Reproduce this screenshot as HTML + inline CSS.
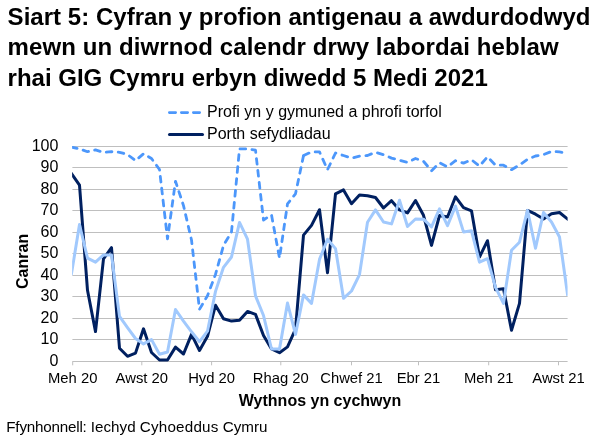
<!DOCTYPE html>
<html><head><meta charset="utf-8"><title>Siart 5</title>
<style>
html,body{margin:0;padding:0;background:#fff;}
body{width:601px;height:443px;overflow:hidden;position:relative;font-family:"Liberation Sans",sans-serif;color:#000;}
h1{position:absolute;left:7.6px;top:1.7px;margin:0;font-size:24px;line-height:30.5px;font-weight:bold;white-space:nowrap;letter-spacing:0px;font-kerning:none;}
svg{position:absolute;left:0;top:0;}
svg text{font-family:"Liberation Sans",sans-serif;font-size:16px;fill:#000;}
.src{position:absolute;left:6.3px;top:417px;font-size:15.2px;line-height:20px;white-space:nowrap;}
</style></head><body>
<h1><span style="letter-spacing:0.03px">Siart 5: Cyfran y profion antigenau a awdurdodwyd</span><br><span style="letter-spacing:0.1px">mewn un diwrnod calendr drwy labordai heblaw</span><br>rhai GIG Cymru erbyn diwedd 5 Medi 2021</h1>
<svg width="601" height="443" viewBox="0 0 601 443">
<defs><clipPath id="pc"><rect x="72.1" y="146" width="495.5" height="217"/></clipPath></defs>
<g stroke="#bfbfbf" stroke-width="1" fill="none"><line x1="72.4" x2="567.6" y1="361.5" y2="361.5"/><line x1="72.4" x2="567.6" y1="339.5" y2="339.5"/><line x1="72.4" x2="567.6" y1="318.5" y2="318.5"/><line x1="72.4" x2="567.6" y1="296.5" y2="296.5"/><line x1="72.4" x2="567.6" y1="275.5" y2="275.5"/><line x1="72.4" x2="567.6" y1="253.5" y2="253.5"/><line x1="72.4" x2="567.6" y1="232.5" y2="232.5"/><line x1="72.4" x2="567.6" y1="210.5" y2="210.5"/><line x1="72.4" x2="567.6" y1="189.5" y2="189.5"/><line x1="72.4" x2="567.6" y1="167.5" y2="167.5"/><line x1="72.4" x2="567.6" y1="146.5" y2="146.5"/><line x1="72.7" x2="72.7" y1="361.5" y2="365.3"/><line x1="141.8" x2="141.8" y1="361.5" y2="365.3"/><line x1="211.6" x2="211.6" y1="361.5" y2="365.3"/><line x1="280.8" x2="280.8" y1="361.5" y2="365.3"/><line x1="351.5" x2="351.5" y1="361.5" y2="365.3"/><line x1="418.5" x2="418.5" y1="361.5" y2="365.3"/><line x1="488.7" x2="488.7" y1="361.5" y2="365.3"/><line x1="558.5" x2="558.5" y1="361.5" y2="365.3"/></g>
<g clip-path="url(#pc)">
<polyline points="71.5,147.1 79.5,148.9 87.5,151.7 95.5,149.9 103.5,152.3 111.5,151.7 119.5,152.3 127.5,154.5 135.5,160.7 143.5,153.8 151.5,158.5 159.5,169.5 167.5,238.9 175.5,181.3 183.5,205.6 191.5,240.0 199.5,309.3 207.5,295.7 215.5,274.4 223.5,245.4 231.5,231.9 239.5,148.9 247.5,148.9 255.5,150.2 263.5,220.0 271.5,214.9 279.5,258.1 287.5,203.9 295.5,193.8 303.5,155.7" fill="none" stroke="#4c97fb" stroke-width="2.8" stroke-dasharray="5.7 6.3" stroke-linejoin="round" stroke-linecap="round"/>
<polyline points="303.5,155.7 311.5,151.9 319.5,151.9 327.5,169.7 335.5,153.0 343.5,155.5 351.5,158.1 359.5,156.2 367.5,155.5 375.5,152.3 383.5,154.7 391.5,158.1 399.5,160.3 407.5,162.4 415.5,158.5 423.5,161.3 431.5,170.8 439.5,162.8 447.5,166.9 455.5,160.7 463.5,163.1 471.5,159.8 479.5,166.1 487.5,156.8 495.5,165.2 503.5,165.2 511.5,169.7 519.5,165.0 527.5,159.4 535.5,156.0 543.5,154.7 551.5,151.4 559.5,151.9 567.5,153.2" fill="none" stroke="#4c97fb" stroke-width="2.8" stroke-dasharray="5.85 6.45" stroke-dashoffset="12.07" stroke-linejoin="round" stroke-linecap="round"/>
<polyline points="71.5,173.6 79.5,185.2 87.5,290.3 95.5,331.6 103.5,258.9 111.5,247.6 119.5,348.2 127.5,356.3 135.5,353.1 143.5,328.8 151.5,352.5 159.5,360.0 167.5,360.0 175.5,347.1 183.5,354.0 191.5,334.4 199.5,350.5 207.5,336.3 215.5,305.2 223.5,318.7 231.5,321.1 239.5,320.2 247.5,311.4 255.5,314.4 263.5,335.5 271.5,349.0 279.5,352.7 287.5,346.9 295.5,329.2 303.5,235.1 311.5,225.4 319.5,209.7 327.5,272.7 335.5,193.8 343.5,189.9 351.5,203.7 359.5,195.1 367.5,195.7 375.5,197.5 383.5,208.0 391.5,200.7 399.5,209.9 407.5,212.9 415.5,200.5 423.5,215.3 431.5,245.4 439.5,215.5 447.5,217.0 455.5,196.8 463.5,207.6 471.5,210.8 479.5,257.0 487.5,240.7 495.5,289.7 503.5,288.8 511.5,330.3 519.5,303.4 527.5,210.4 535.5,214.2 543.5,219.0 551.5,213.8 559.5,212.5 567.5,219.0" fill="none" stroke="#002060" stroke-width="3" stroke-linejoin="round" stroke-linecap="square"/>
<polyline points="71.5,273.6 79.5,224.5 87.5,258.1 95.5,262.2 103.5,254.9 111.5,254.9 119.5,316.4 127.5,327.7 135.5,338.5 143.5,343.9 151.5,339.6 159.5,354.2 167.5,352.0 175.5,309.5 183.5,321.1 191.5,331.8 199.5,341.7 207.5,331.2 215.5,291.4 223.5,267.3 231.5,257.0 239.5,222.4 247.5,239.2 255.5,295.9 263.5,315.5 271.5,349.0 279.5,349.0 287.5,303.0 295.5,334.4 303.5,294.9 311.5,303.4 319.5,259.4 327.5,239.2 335.5,248.6 343.5,298.3 351.5,291.0 359.5,274.6 367.5,222.2 375.5,209.9 383.5,222.0 391.5,223.9 399.5,200.2 407.5,226.5 415.5,219.0 423.5,219.2 431.5,226.9 439.5,208.8 447.5,225.6 455.5,206.1 463.5,231.9 471.5,230.8 479.5,262.2 487.5,258.7 495.5,287.3 503.5,303.4 511.5,250.3 519.5,242.2 527.5,210.4 535.5,248.2 543.5,212.5 551.5,222.0 559.5,237.0 567.5,294.2" fill="none" stroke="#a1c9fd" stroke-width="3" stroke-linejoin="round" stroke-linecap="square"/>
</g>
<line x1="169.3" x2="201" y1="112.6" y2="112.6" stroke="#4c97fb" stroke-width="2.6" stroke-dasharray="6.4 5.6" stroke-linecap="round"/>
<line x1="169.5" x2="202.5" y1="134.5" y2="134.5" stroke="#002060" stroke-width="3" stroke-linecap="round"/>
<text x="207" y="117">Profi yn y gymuned a phrofi torfol</text>
<text x="207" y="138.5">Porth sefydliadau</text>
<text x="58.4" y="365.8" text-anchor="end">0</text><text x="58.4" y="343.8" text-anchor="end">10</text><text x="58.4" y="322.8" text-anchor="end">20</text><text x="58.4" y="300.8" text-anchor="end">30</text><text x="58.4" y="279.8" text-anchor="end">40</text><text x="58.4" y="257.8" text-anchor="end">50</text><text x="58.4" y="236.8" text-anchor="end">60</text><text x="58.4" y="214.8" text-anchor="end">70</text><text x="58.4" y="193.8" text-anchor="end">80</text><text x="58.4" y="171.8" text-anchor="end">90</text><text x="58.4" y="150.8" text-anchor="end">100</text>
<text x="72.7" y="383.2" text-anchor="middle" style="font-size:14.8px">Meh 20</text><text x="141.8" y="383.2" text-anchor="middle" style="font-size:14.8px">Awst 20</text><text x="211.6" y="383.2" text-anchor="middle" style="font-size:14.8px">Hyd 20</text><text x="280.8" y="383.2" text-anchor="middle" style="font-size:14.8px">Rhag 20</text><text x="351.5" y="383.2" text-anchor="middle" style="font-size:14.8px">Chwef 21</text><text x="418.5" y="383.2" text-anchor="middle" style="font-size:14.8px">Ebr 21</text><text x="488.7" y="383.2" text-anchor="middle" style="font-size:14.8px">Meh 21</text><text x="558.5" y="383.2" text-anchor="middle" style="font-size:14.8px">Awst 21</text>
<text x="320" y="406" text-anchor="middle" font-weight="bold">Wythnos yn cychwyn</text>
<text transform="translate(27.8,261.4) rotate(-90)" text-anchor="middle" font-weight="bold">Canran</text>
</svg>
<div class="src"><span style="letter-spacing:-0.2px">Ffynhonnell:</span> Iechyd <span style="letter-spacing:0.2px">Cyhoeddus</span> Cymru</div>
</body></html>
